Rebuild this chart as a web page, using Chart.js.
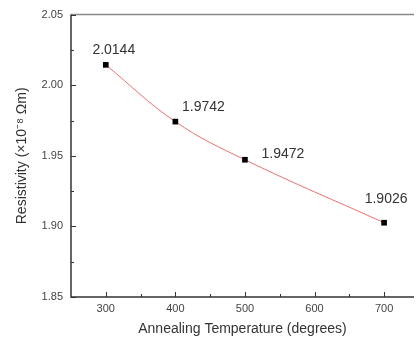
<!DOCTYPE html>
<html>
<head>
<meta charset="utf-8">
<script src="https://cdn.jsdelivr.net/npm/chart.js@4/dist/chart.umd.min.js"></script>
<style>
  html, body { margin: 0; padding: 0; background: #fff; }
  #wrap { width: 418px; height: 343px; }
</style>
</head>
<body>
<div id="wrap"><canvas id="c" width="418" height="343"></canvas></div>
<script>
// Annealing temperature (degrees) and measured resistivity (x10^-8 ohm m)
const temperatures = [300, 400, 500, 700];
const resistivity = [2.0144, 1.9742, 1.9472, 1.9026];
const xTickValues = [300, 400, 500, 600, 700];
const yTickValues = [1.85, 1.90, 1.95, 2.00, 2.05];

// Label placement relative to each marker (px)
const labelOffsets = [[8, -15], [28, -14], [38, -6], [2, -24]];

const FONT = '"Liberation Sans", Arial, sans-serif';
const AXIS_COLOR = '#333';

// Frame line along the top and inward-pointing major/minor ticks
const framePlugin = {
  id: 'frame',
  afterDatasetsDraw(chart) {
    const { ctx, chartArea: a, scales: { x, y } } = chart;
    ctx.save();
    ctx.strokeStyle = '#8a8a8a';
    ctx.lineWidth = 1.5;
    ctx.beginPath();
    ctx.moveTo(a.left, a.top);
    ctx.lineTo(a.right, a.top);
    ctx.stroke();

    ctx.strokeStyle = AXIS_COLOR;
    ctx.lineWidth = 1.5;
    ctx.beginPath();
    ctx.moveTo(a.left, a.top);
    ctx.lineTo(a.left, a.bottom);
    ctx.lineTo(a.right, a.bottom);
    ctx.stroke();

    ctx.lineWidth = 1;
    ctx.beginPath();
    xTickValues.forEach((v) => {
      const px = Math.round(x.getPixelForValue(v)) + 0.5;
      ctx.moveTo(px, a.bottom);
      ctx.lineTo(px, a.bottom - 5);
      const mid = v + 50;
      if (mid < x.max) {
        const mx = Math.round(x.getPixelForValue(mid)) + 0.5;
        ctx.moveTo(mx, a.bottom);
        ctx.lineTo(mx, a.bottom - 3);
      }
    });
    yTickValues.forEach((v, i) => {
      const py = Math.round(y.getPixelForValue(v)) + 0.5;
      ctx.moveTo(a.left, py);
      ctx.lineTo(a.left + 5, py);
      if (i < yTickValues.length - 1) {
        const my = Math.round(y.getPixelForValue(v + 0.025)) + 0.5;
        ctx.moveTo(a.left, my);
        ctx.lineTo(a.left + 3, my);
      }
    });
    ctx.stroke();

    // value labels next to each marker
    ctx.fillStyle = '#333';
    ctx.font = '14px ' + FONT;
    ctx.textAlign = 'center';
    ctx.textBaseline = 'middle';
    const meta = chart.getDatasetMeta(0);
    meta.data.forEach((pt, i) => {
      const [dx, dy] = labelOffsets[i];
      ctx.fillText(resistivity[i].toFixed(4), pt.x + dx, pt.y + dy);
    });
    ctx.restore();
  }
};

new Chart(document.getElementById('c'), {
  type: 'line',
  data: {
    datasets: [{
      data: temperatures.map((t, i) => ({ x: t, y: resistivity[i] })),
      borderColor: '#e87070',
      borderWidth: 1,
      tension: 0.4,
      pointStyle: 'rect',
      pointRadius: 4,
      pointBackgroundColor: '#000',
      pointBorderColor: '#000',
      pointBorderWidth: 0,
      clip: false
    }]
  },
  options: {
    responsive: false,
    animation: false,
    devicePixelRatio: 1,
    layout: { padding: { top: 13, right: 0, left: 0, bottom: 0 } },
    plugins: { legend: { display: false }, tooltip: { enabled: false } },
    scales: {
      x: {
        type: 'linear',
        min: 250,
        max: 743,
        border: { display: false },
        grid: { display: false, drawTicks: false },
        afterBuildTicks(scale) { scale.ticks = xTickValues.map(v => ({ value: v })); },
        afterFit(scale) { scale.height = 46; },
        ticks: {
          padding: 5,
          color: '#444',
          font: { family: FONT, size: 11 },
          maxRotation: 0,
          callback: v => String(v)
        },
        title: {
          display: true,
          text: 'Annealing Temperature (degrees)',
          color: '#333',
          font: { family: FONT, size: 14 },
          padding: { top: 0, bottom: 5 }
        }
      },
      y: {
        min: 1.85,
        max: 2.05,
        border: { display: false },
        grid: { display: false, drawTicks: false },
        afterBuildTicks(scale) { scale.ticks = yTickValues.map(v => ({ value: v })); },
        afterFit(scale) { scale.width = 71; },
        ticks: {
          padding: 8,
          color: '#444',
          font: { family: FONT, size: 11 },
          callback: v => v.toFixed(2)
        },
        title: {
          display: true,
          text: 'Resistivity (×10⁻⁸ Ωm)',
          color: '#333',
          font: { family: FONT, size: 14 },
          padding: { top: 14, bottom: 0 }
        }
      }
    }
  },
  plugins: [framePlugin]
});
</script>
</body>
</html>
